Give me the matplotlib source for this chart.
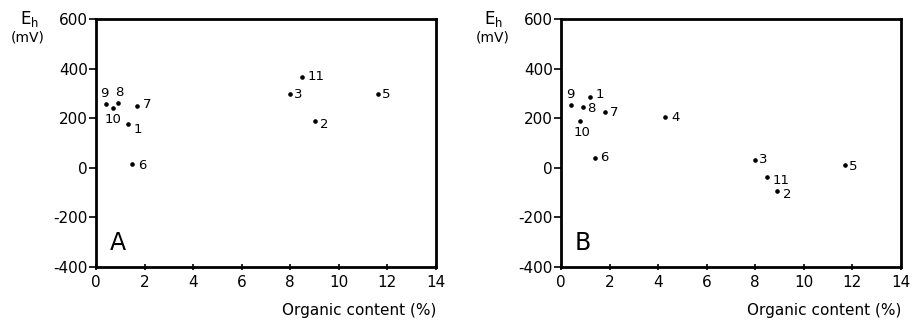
import matplotlib
matplotlib.use("Agg")
import matplotlib.pyplot as plt

plt.rcParams['font.family'] = ['DejaVu Sans']
plt.rcParams['axes.unicode_minus'] = False

# Panel A data
a_labels = ["1", "2", "3", "5", "6", "7", "8", "9", "10", "11"]
a_x = [1.3, 9.0, 8.0, 11.6, 1.5, 1.7, 0.9, 0.4, 0.7, 8.5]
a_y = [175, 187, 297, 296, 15, 250, 262, 258, 242, 368]

# Panel B data
b_labels = ["1", "2", "3", "4", "5", "6", "7", "8", "9", "10", "11"]
b_x = [1.2, 8.9, 8.0, 4.3, 11.7, 1.4, 1.8, 0.9, 0.4, 0.8, 8.5]
b_y = [285, -95, 32, 203, 10, 40, 223, 245, 252, 190, -38]

x_ticks = [0, 2, 4, 6, 8, 10, 12, 14]
y_ticks = [-400, -200, 0, 200, 400, 600]

# label offsets in points (style only)
offs_a = {"1": (4, -4, 'left', 'center'), "2": (4, -2, 'left', 'center'),
          "3": (3, 0, 'left', 'center'), "5": (3, 0, 'left', 'center'),
          "6": (4, -1, 'left', 'center'), "7": (4, 1, 'left', 'center'),
          "8": (1, 3, 'center', 'bottom'), "9": (-1, 3, 'center', 'bottom'),
          "10": (0, -4, 'center', 'top'), "11": (4, 0, 'left', 'center')}
offs_b = {"1": (4, 2, 'left', 'center'), "2": (4, -2, 'left', 'center'),
          "3": (3, 0, 'left', 'center'), "4": (4, 0, 'left', 'center'),
          "5": (3, -1, 'left', 'center'), "6": (4, 0, 'left', 'center'),
          "7": (4, 0, 'left', 'center'), "8": (3, -1, 'left', 'center'),
          "9": (0, 3, 'center', 'bottom'), "10": (1, -4, 'center', 'top'),
          "11": (4, -2, 'left', 'center')}

fig = plt.figure(figsize=(9.15, 3.22), dpi=100)
W, H = 915, 322


def make_ax(left_px, right_px, top_px, bottom_px):
    return fig.add_axes([left_px / W, (H - bottom_px) / H,
                         (right_px - left_px) / W, (bottom_px - top_px) / H])


def style(ax, letter, xs, ys, labels, offs):
    ax.set_xlim(0, 14)
    ax.set_ylim(-400, 600)
    ax.set_xticks(x_ticks)
    ax.set_yticks(y_ticks)
    ax.set_xticklabels([str(t) for t in x_ticks])
    ax.set_yticklabels([str(t) for t in y_ticks])
    for s in ax.spines.values():
        s.set_linewidth(2.0)
        s.set_color('black')
    ax.tick_params(axis='y', direction='out', length=5, width=1.2,
                   labelsize=11, pad=1)
    ax.tick_params(axis='x', direction='inout', length=5, width=1.2,
                   labelsize=11, pad=3)
    ax.plot(xs, ys, 'o', color='black', markersize=2.3, linestyle='none')
    for lab, x, y in zip(labels, xs, ys):
        dx, dy, ha, va = offs[lab]
        ax.annotate(lab, (x, y), xytext=(dx, dy), textcoords='offset points',
                    ha=ha, va=va, fontsize=9.5)
    ax.text(0.04, 0.05, letter, transform=ax.transAxes, fontsize=17,
            ha='left', va='bottom')
    ax.text(1.0, -0.145, "Organic content (%)", transform=ax.transAxes,
            fontsize=11, ha='right', va='top')
    ax.text(-0.225, 0.96, r"E$_\mathregular{h}$", transform=ax.transAxes,
            fontsize=12, ha='left', va='bottom')
    ax.text(-0.25, 0.955, "(mV)", transform=ax.transAxes,
            fontsize=10, ha='left', va='top')


axA = make_ax(96, 436, 19, 267)
style(axA, "A", a_x, a_y, a_labels, offs_a)
axB = make_ax(561, 901, 19, 267)
style(axB, "B", b_x, b_y, b_labels, offs_b)

fig.savefig("out.png", dpi=100)
